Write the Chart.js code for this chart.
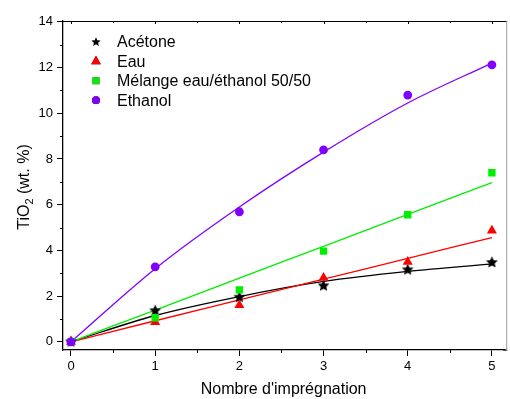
<!DOCTYPE html>
<html>
<head>
<meta charset="utf-8">
<script src="https://cdn.jsdelivr.net/npm/chart.js@4"></script>
<style>
  html, body { margin: 0; padding: 0; background: #fff; overflow: hidden; }
  #wrap { width: 510px; height: 399px; position: relative; }
</style>
</head>
<body>
<div id="wrap"><canvas id="chart"></canvas></div>
<script>
// Nombre d'imprégnation
const impregnations = [0, 1, 2, 3, 4, 5];

// Measured TiO2 loadings (wt. %)
const acetone = [0, 1.36, 1.95, 2.45, 3.15, 3.47];
const eau = [0, 0.86, 1.6, 2.8, 3.5, 4.87];
const melange = [0, 1.05, 2.27, 3.97, 5.56, 7.4];
const ethanol = [0, 3.28, 5.69, 8.4, 10.8, 12.12];

// Fitted curves
const acetoneFit = [0, 1.15, 1.98, 2.64, 3.08, 3.41];
const eauFit = [0, 0.92, 1.83, 2.74, 3.65, 4.56];
const melangeFit = [0, 1.39, 2.79, 4.18, 5.58, 6.97];
const ethanolFit = [0, 3.2, 5.9, 8.3, 10.45, 12.2];

const seriesLabels = ['Acétone', 'Eau', 'Mélange eau/éthanol 50/50', 'Ethanol'];
const seriesColors = ['#000000', '#ff0000', '#00ee00', '#8000ff'];

const yTicks = [0, 1, 2, 3, 4, 5, 6, 7, 8, 9, 10, 11, 12, 13, 14];
const xTicks = [0, 0.5, 1, 1.5, 2, 2.5, 3, 3.5, 4, 4.5, 5];

const FONT = "'Liberation Sans', Arial, sans-serif";

// filled five-pointed star marker
function makeStar(outer, color) {
  const c = document.createElement('canvas');
  const s = Math.ceil(outer * 2 + 2);
  c.width = s; c.height = s;
  const g = c.getContext('2d');
  const inner = outer * 0.47;
  g.beginPath();
  for (let i = 0; i < 10; i++) {
    const r = i % 2 === 0 ? outer : inner;
    const a = -Math.PI / 2 + i * Math.PI / 5;
    const px = s / 2 + r * Math.cos(a);
    const py = s / 2 + r * Math.sin(a);
    if (i === 0) g.moveTo(px, py); else g.lineTo(px, py);
  }
  g.closePath();
  g.fillStyle = color;
  g.fill();
  return c;
}

const starBig = makeStar(6.2, '#000');
const starSmall = makeStar(4.8, '#000');

const markerStyles = [starBig, 'triangle', 'rect', 'circle'];
const markerRadius = [5, 5.8, 5.2, 4.4];
const legendStyles = [starSmall, 'triangle', 'rect', 'circle'];
const legendRadius = [4, 5.6, 4.8, 3.9];

const toXY = arr => arr.map((v, i) => ({ x: impregnations[i], y: v }));

const measured = [acetone, eau, melange, ethanol];
const fits = [acetoneFit, eauFit, melangeFit, ethanolFit];

const datasets = [];
measured.forEach((arr, i) => {
  datasets.push({
    label: seriesLabels[i],
    data: toXY(arr),
    showLine: false,
    pointStyle: markerStyles[i],
    pointRadius: markerRadius[i],
    pointHoverRadius: markerRadius[i],
    backgroundColor: seriesColors[i],
    borderColor: seriesColors[i],
    borderWidth: 0,
    order: 10 - i
  });
});
fits.forEach((arr, i) => {
  datasets.push({
    label: seriesLabels[i] + ' fit',
    data: toXY(arr),
    showLine: true,
    pointRadius: 0,
    borderColor: seriesColors[i],
    borderWidth: 1.3,
    fill: false,
    cubicInterpolationMode: 'monotone',
    order: 20 - i
  });
});

// frame, minor ticks, legend and the y title with subscript
const decorations = {
  id: 'decorations',
  afterDraw(chart) {
    const { ctx, chartArea: a, scales } = chart;
    // chart.js keeps a few px on the right; the frame sits 3px further out
    const frameRight = a.right + 3;
    ctx.save();
    ctx.strokeStyle = '#000';
    ctx.lineWidth = 1;
    ctx.beginPath();
    ctx.moveTo(a.left, a.top + 0.5);
    ctx.lineTo(frameRight, a.top + 0.5);
    ctx.stroke();
    ctx.lineWidth = 1.3;
    ctx.beginPath();
    ctx.moveTo(a.right - 1, a.bottom);
    ctx.lineTo(frameRight, a.bottom);
    ctx.stroke();
    ctx.lineWidth = 1;
    ctx.strokeStyle = '#9a9a9a';
    ctx.beginPath();
    ctx.moveTo(frameRight - 0.5, a.top);
    ctx.lineTo(frameRight - 0.5, a.bottom);
    ctx.stroke();

    // minor ticks
    ctx.strokeStyle = '#000';
    ctx.beginPath();
    yTicks.forEach(v => {
      if (v % 2 !== 0) {
        const py = Math.round(scales.y.getPixelForValue(v)) + 0.5;
        ctx.moveTo(a.left - 3, py);
        ctx.lineTo(a.left, py);
      }
    });
    xTicks.forEach(v => {
      const px = Math.round(scales.x.getPixelForValue(v)) + 0.5;
      if (!Number.isInteger(v)) {
        ctx.moveTo(px, a.bottom);
        ctx.lineTo(px, a.bottom + 3);
      }
      ctx.moveTo(px, a.top);
      ctx.lineTo(px, a.top + (Number.isInteger(v) ? 3 : 2));
    });
    ctx.stroke();

    // legend
    const lx = 96, ly0 = 42, dy = 19.4;
    ctx.font = '16px ' + FONT;
    ctx.textBaseline = 'middle';
    ctx.textAlign = 'left';
    seriesLabels.forEach((label, i) => {
      const y = ly0 + i * dy;
      const style = legendStyles[i];
      if (style instanceof HTMLCanvasElement) {
        ctx.drawImage(style, lx - style.width / 2, y - style.height / 2);
      } else {
        Chart.helpers.drawPoint(ctx, {
          pointStyle: style,
          radius: legendRadius[i],
          borderWidth: 0,
          rotation: 0
        }, lx, y);
        ctx.fillStyle = seriesColors[i];
        ctx.fill();
      }
      ctx.fillStyle = '#000';
      ctx.fillText(label, 117, y + 1);
    });

    // y title: TiO2 (wt. %)
    ctx.translate(23, 187);
    ctx.rotate(-Math.PI / 2);
    const big = '16px ' + FONT, small = '11px ' + FONT;
    ctx.font = big;
    const w1 = ctx.measureText('TiO').width;
    const w3 = ctx.measureText(' (wt. %)').width;
    ctx.font = small;
    const w2 = ctx.measureText('2').width;
    let x = -(w1 + w2 + w3) / 2;
    ctx.fillStyle = '#000';
    ctx.textBaseline = 'alphabetic';
    ctx.font = big;
    ctx.fillText('TiO', x, 6);
    x += w1;
    ctx.font = small;
    ctx.fillText('2', x, 10);
    x += w2;
    ctx.font = big;
    ctx.fillText(' (wt. %)', x, 6);
    ctx.restore();
  }
};

new Chart(document.getElementById('chart'), {
  type: 'scatter',
  data: { datasets },
  options: {
    responsive: true,
    maintainAspectRatio: false,
    animation: false,
    layout: { padding: { top: 21, right: 2, left: 0, bottom: 0 } },
    plugins: {
      legend: { display: false },
      tooltip: { enabled: false }
    },
    scales: {
      x: {
        type: 'linear',
        min: -0.095,
        max: 5.146,
        afterBuildTicks: scale => { scale.ticks = xTicks.map(v => ({ value: v })); },
        afterFit: scale => { scale.height = 49; },
        ticks: {
          autoSkip: false,
          maxRotation: 0,
          padding: 3,
          color: '#000',
          font: { family: FONT, size: 13 },
          callback: v => (Number.isInteger(v) ? String(v) : '')
        },
        grid: {
          drawOnChartArea: false,
          tickLength: 6,
          tickColor: c => (Number.isInteger(c.tick.value) ? '#000' : 'rgba(0,0,0,0)')
        },
        border: { color: '#000', width: 1.3 },
        title: {
          display: true,
          text: "Nombre d'imprégnation",
          color: '#000',
          font: { family: FONT, size: 16 },
          padding: { top: 2, bottom: 0 }
        }
      },
      y: {
        type: 'linear',
        min: -0.36,
        max: 14.04,
        afterBuildTicks: scale => { scale.ticks = yTicks.map(v => ({ value: v })); },
        afterFit: scale => { scale.width = 63; },
        ticks: {
          autoSkip: false,
          padding: 4,
          color: '#000',
          font: { family: FONT, size: 13 },
          callback: v => (v % 2 === 0 ? String(v) : '')
        },
        grid: {
          drawOnChartArea: false,
          tickLength: 6,
          tickColor: c => (c.tick.value % 2 === 0 ? '#000' : 'rgba(0,0,0,0)')
        },
        border: { color: '#000', width: 1.3 }
      }
    }
  },
  plugins: [decorations]
});
</script>
</body>
</html>
